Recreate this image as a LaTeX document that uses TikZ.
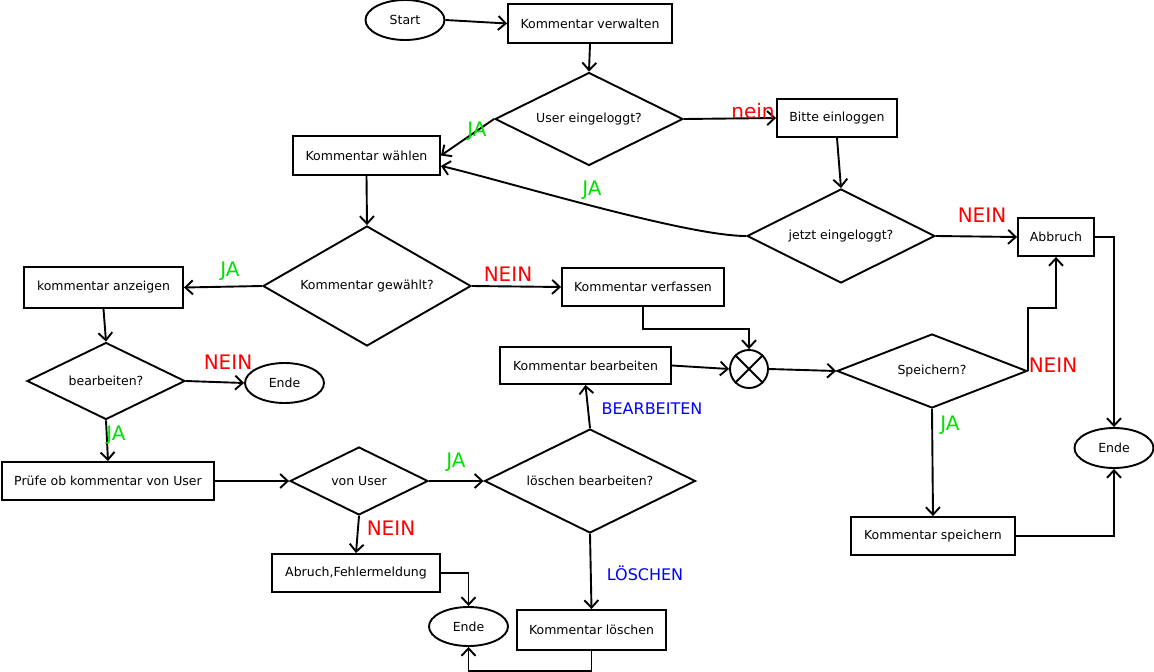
\documentclass[tikz,border=0pt]{standalone}
\usepackage{fontspec}
\setmainfont{DejaVu Sans}
\usetikzlibrary{shapes.geometric,arrows.meta}

\definecolor{jagruen}{RGB}{0,225,0}
\definecolor{neinrot}{RGB}{255,0,0}
\definecolor{wahlblau}{RGB}{0,0,255}

\tikzset{
  box/.style={draw, rectangle, inner sep=0pt, minimum height=38pt, font=\fontsize{12.5}{14}\selectfont},
  term/.style={draw, ellipse, inner sep=0pt, minimum width=79pt, minimum height=40pt, font=\fontsize{12.5}{14}\selectfont},
  decision/.style={draw, diamond, inner sep=0pt, font=\fontsize{12.5}{14}\selectfont},
  janode/.style={text=jagruen, font=\fontsize{20}{22}\selectfont},
  neinnode/.style={text=neinrot, font=\fontsize{20}{22}\selectfont},
  wahlnode/.style={text=wahlblau, font=\fontsize{16}{18}\selectfont},
}

\begin{document}
\begin{tikzpicture}[x=1pt, y=-1pt, line width=1.9pt, >={Straight Barb[length=7.5pt,width=14pt]}]
    \useasboundingbox (0,0) rectangle (1154,672);

    % Anfang
    \node[term] (start) at (405,20) {Start};
    \node[box, minimum width=164pt, minimum height=39pt] (verwalten) at (590,23.5) {Kommentar verwalten};
    \node[decision, minimum width=188pt, minimum height=93pt, shape aspect=2.02] (eingeloggt) at (589,119) {User eingeloggt?};
    \node[box, minimum width=120pt] (einloggen) at (837,118) {Bitte einloggen};
    \node[decision, minimum width=188pt, minimum height=94pt, shape aspect=2] (jetzt) at (841,236) {jetzt eingeloggt?};
    \node[box, minimum width=76pt] (abbruch) at (1056,237) {Abbruch};
    \node[box, minimum width=147pt, minimum height=39pt] (waehlen) at (366.5,155.5) {Kommentar wählen};

    % Auswahl
    \node[decision, minimum width=208pt, minimum height=120pt, shape aspect=1.73] (gewaehlt) at (367,286) {Kommentar gewählt?};
    \node[box, minimum width=159pt, minimum height=41pt] (anzeigen) at (103.5,287.5) {kommentar anzeigen};
    \node[box, minimum width=162pt] (verfassen) at (643,287) {Kommentar verfassen};
    \node[decision, minimum width=158pt, minimum height=77pt, shape aspect=2.05] (bearbeiten) at (106,381) {bearbeiten?};
    \node[term] (ende1) at (284.5,383) {Ende};
    \node[box, minimum width=212pt] (pruefe) at (108,481) {Prüfe ob kommentar von User};
    \node[decision, minimum width=138pt, minimum height=68pt, shape aspect=2.03] (vonuser) at (359,481) {von User};
    \node[decision, minimum width=211pt, minimum height=104pt, shape aspect=2.03] (loeschbearb) at (590,481) {löschen bearbeiten?};
    \node[box, minimum width=168pt] (fehler) at (356,573) {Abruch,Fehlermeldung};
    \node[term, minimum height=39pt] (ende2) at (468.5,626.5) {Ende};
    \node[box, minimum width=149pt, minimum height=40pt] (loeschen) at (591.5,630) {Kommentar löschen};

    % Speichern
    \node[box, minimum width=171pt, minimum height=37pt] (kbearb) at (585.5,365.5) {Kommentar bearbeiten};
    \node[draw, circle, inner sep=0pt, minimum size=38pt] (kreuz) at (749,369) {};
    \draw (kreuz.north west) -- (kreuz.south east);
    \draw (kreuz.north east) -- (kreuz.south west);
    \node[decision, minimum width=190pt, minimum height=74pt, shape aspect=2.57] (speichern) at (932,371) {Speichern?};
    \node[box, minimum width=164pt] (kspeichern) at (933,536) {Kommentar speichern};
    \node[term] (ende3) at (1114,448) {Ende};

    % Pfeile
    \draw[->] (start.east) -- (verwalten.west);
    \draw[->] (verwalten.south) -- (eingeloggt.north);
    \draw[->] (eingeloggt.west) -- (waehlen.east);
    \draw[->] (eingeloggt.east) -- (einloggen.west);
    \draw[->] (einloggen.south) -- (jetzt.north);
    \draw[->] (jetzt.west) to[out=180, in=-13, looseness=0.5] (waehlen.-8);
    \draw[->] (jetzt.east) -- (abbruch.west);
    \draw[->] (waehlen.south) -- (gewaehlt.north);
    \draw[->] (gewaehlt.west) -- (anzeigen.east);
    \draw[->] (gewaehlt.east) -- (verfassen.west);
    \draw[->] (anzeigen.south) -- (bearbeiten.north);
    \draw[->] (bearbeiten.east) -- (ende1.west);
    \draw[->] (bearbeiten.south) -- (pruefe.north);
    \draw[->] (pruefe.east) -- (vonuser.west);
    \draw[->] (vonuser.east) -- (loeschbearb.west);
    \draw[->] (vonuser.south) -- (fehler.north);
    \draw[->] (fehler.east) -| (ende2.north);
    \draw[->] (loeschbearb.south) -- (loeschen.north);
    \draw[->] (loeschen.south) -- ++(0,20) -| (ende2.south);
    \draw[->] (loeschbearb.north) -- (kbearb.south);
    \draw[->] (verfassen.south) -- ++(0,22) -| (kreuz.north);
    \draw[->] (kbearb.east) -- (kreuz.west);
    \draw[->] (kreuz.east) -- (speichern.west);
    \draw[->] (speichern.east) -- ++(0,-63) -| (abbruch.south);
    \draw[->] (speichern.south) -- (kspeichern.north);
    \draw[->] (abbruch.east) -| (ende3.north);
    \draw[->] (kspeichern.east) -| (ende3.south);

    % Beschriftungen
    \node[janode] (ja1) at (477,131) {JA};
    \node[neinnode] (nein1) at (753,111) {nein};
    \node[janode] (ja2) at (592,190) {JA};
    \node[neinnode] (nein2) at (982,215) {NEIN};
    \node[janode] (ja3) at (230,271) {JA};
    \node[neinnode] (nein3) at (508,274) {NEIN};
    \node[neinnode] (nein4) at (228,362) {NEIN};
    \node[janode] (ja4) at (116,435) {JA};
    \node[janode] (ja5) at (456,462) {JA};
    \node[neinnode] (nein5) at (391,528) {NEIN};
    \node[wahlnode] (wahl1) at (645,573) {LÖSCHEN};
    \node[wahlnode] (wahl2) at (652,409) {BEARBEITEN};
    \node[neinnode] (nein6) at (1053,365) {NEIN};
    \node[janode] (ja6) at (950,425) {JA};
\end{tikzpicture}
\end{document}
